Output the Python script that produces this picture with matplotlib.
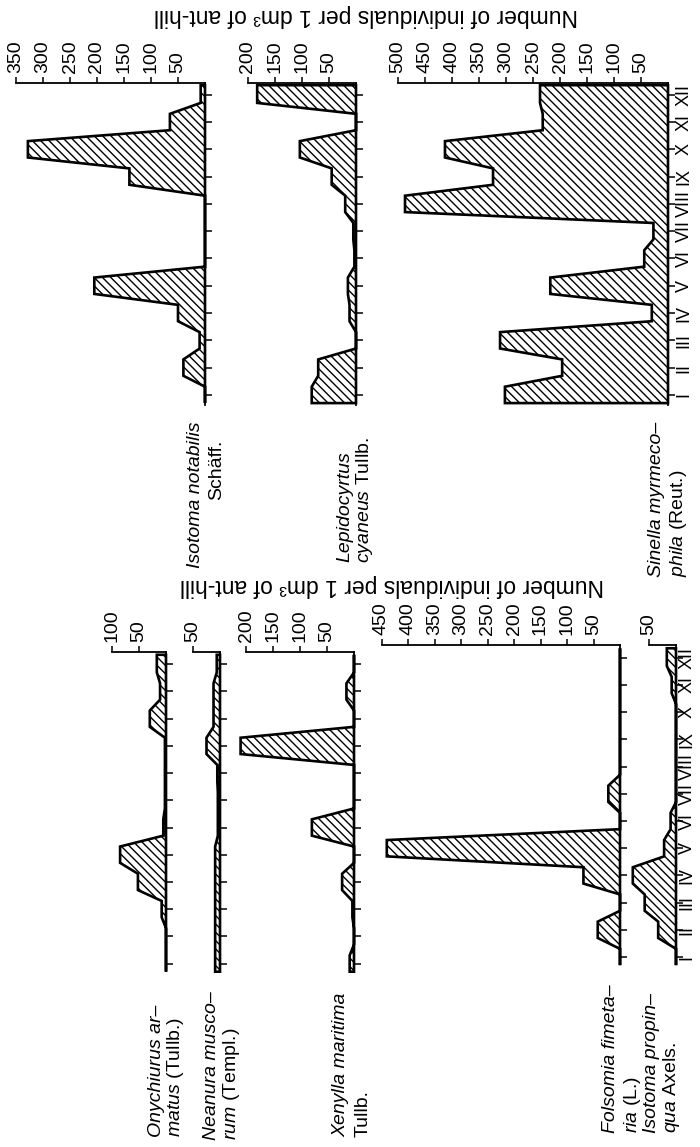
import matplotlib
matplotlib.use("Agg")
import matplotlib.pyplot as plt
import matplotlib.transforms as mtransforms
from matplotlib.patches import Polygon

plt.rcParams['font.family'] = ['Liberation Sans', 'DejaVu Sans']
plt.rcParams['mathtext.fontset'] = 'custom'
plt.rcParams['mathtext.rm'] = 'Liberation Sans'
plt.rcParams['mathtext.it'] = 'Liberation Sans:italic'
plt.rcParams['hatch.linewidth'] = 1.0

W, H = 700, 1147

months = ['I', 'II', 'III', 'IV', 'V', 'VI', 'VII', 'VIII', 'IX', 'X', 'XI', 'XII']

# individuals per 1 dm3 of ant-hill, months I..XII
isotoma_notabilis = [0, 40, 10, 50, 205, 0, 0, 0, 140, 328, 65, 8]
lepidocyrtus_cyaneus = [82, 70, 0, 12, 15, 3, 5, 20, 45, 104, 0, 183]
sinella_myrmecophila = [302, 196, 311, 30, 218, 44, 27, 487, 324, 413, 232, 237]
onychiurus_armatus = [0, 0, 8, 52, 85, 5, 2, 2, 2, 30, 11, 17]
neanura_muscorum = [9, 9, 9, 9, 9, 4, 4, 5, 25, 12, 12, 6]
xenylla_maritima = [8, 0, 3, 22, 0, 78, 0, 0, 210, 0, 14, 0]
folsomia_fimetaria = [0, 42, 0, 69, 440, 0, 22, 0, 0, 0, 0, 0]
isotoma_propinqua = [0, 33, 58, 80, 22, 10, 0, 0, 0, 0, 8, 17]

ylabel = 'Number of individuals per 1 dm³ of ant-hill'

FS = 14
fig = plt.figure(figsize=(W / 100, H / 100), dpi=100)


def profile(values, half=0.3, start=0.3, end=0.35):
    pts = [(0, 1 - start)]
    n = len(values)
    for i, v in enumerate(values):
        m = i + 1
        lo = m - (start if i == 0 else half)
        hi = m + (end if i == n - 1 else half)
        pts.append((v, lo))
        pts.append((v, hi))
    pts.append((0, n + end))
    return pts


def panel(values, left, base, top, bottom, mlo, mhi, vmax, step=50):
    ax = fig.add_axes([left / W, 1 - bottom / H, (base - left) / W, (bottom - top) / H])
    ax.set_xlim(vmax, 0)
    ax.set_ylim(mlo, mhi)
    poly = Polygon(profile(values), closed=True, facecolor='white',
                   edgecolor='black', hatch='\\\\\\\\', linewidth=1.9,
                   joinstyle='miter', clip_on=False, zorder=3)
    ax.add_patch(poly)
    for s in ('left', 'bottom'):
        ax.spines[s].set_visible(False)
    for s in ('top', 'right'):
        ax.spines[s].set_linewidth(1.3)
    ax.patch.set_visible(False)
    ax.xaxis.tick_top()
    ticks = list(range(step, vmax + 1, step))
    ax.set_xticks(ticks)
    ax.set_xticklabels([str(t) for t in ticks])
    ax.tick_params(axis='x', direction='out', length=4, width=1.1,
                   labelsize=FS, labelrotation=90, pad=3)
    ax.yaxis.tick_right()
    ax.set_yticks(range(1, 13))
    ax.set_yticklabels([])
    ax.tick_params(axis='y', direction='out', length=5, width=1.1)
    return ax


def month_labels(ax, xpx):
    tr = mtransforms.blended_transform_factory(fig.transFigure, ax.transData)
    for i, m in enumerate(months):
        ax.text(xpx / W, i + 1, m, transform=tr, rotation=90,
                ha='center', va='center', fontsize=13)


def label(xpx, ypx, text, italic=False):
    fig.text(xpx / W, 1 - ypx / H, text, rotation=90, rotation_mode='anchor',
             ha='left', va='baseline', fontsize=FS,
             fontstyle='italic' if italic else 'normal')


# right-hand group (upper part of the page)
TOP_U, BOT_U = 83, 405
MLO_U, MHI_U = 0.63, 12.43
panel(isotoma_notabilis, 16, 205, TOP_U, BOT_U, MLO_U, MHI_U, 350)
panel(lepidocyrtus_cyaneus, 248, 356, TOP_U, BOT_U, MLO_U, MHI_U, 200)
ax_s = panel(sinella_myrmecophila, 398, 668, TOP_U, BOT_U, MLO_U, MHI_U, 500)
month_labels(ax_s, 684)

# left-hand group (lower part of the page)
MLO_L, MHI_L = 0.78, 12.47
sh = 6.5
panel(onychiurus_armatus, 112, 166, 645 + sh, 963 + sh, MLO_L, MHI_L, 100)
panel(neanura_muscorum, 193, 220, 645 + sh, 963 + sh, MLO_L, MHI_L, 50)
panel(xenylla_maritima, 246, 354, 645 + sh, 963 + sh, MLO_L, MHI_L, 200)
panel(folsomia_fimetaria, 381.5, 620, 645, 963, MLO_L, MHI_L, 450)
ax_p = panel(isotoma_propinqua, 649, 676, 645, 963, MLO_L, MHI_L, 50)
month_labels(ax_p, 687)

# axis titles
fig.text(366 / W, 1 - 16 / H, ylabel, rotation=180, ha='center', va='center', fontsize=16.5)
fig.text(392 / W, 1 - 586 / H, ylabel, rotation=180, ha='center', va='center', fontsize=16.5)

# species names
label(200, 568, 'Isotoma notabilis', italic=True)
label(221, 500, 'Schäff.')
label(349, 562, 'Lepidocyrtus', italic=True)
label(369, 563, r'$\mathit{cyaneus}$ Tullb.')
label(661, 577, 'Sinella myrmeco–', italic=True)
label(683, 577, r'$\mathit{phila}$ (Reut.)')

label(161, 1137, 'Onychiurus ar–', italic=True)
label(180, 1137, r'$\mathit{matus}$ (Tullb.)')
label(216, 1140, 'Neanura musco–', italic=True)
label(236, 1140, r'$\mathit{rum}$ (Templ.)')
label(345, 1137, 'Xenylla maritima', italic=True)
label(368, 1137, 'Tullb.')
label(615, 1133, 'Folsomia fimeta–', italic=True)
label(637, 1133, r'$\mathit{ria}$ (L.)')
label(656, 1133, 'Isotoma propin–', italic=True)
label(676, 1133, r'$\mathit{qua}$ Axels.')

fig.savefig('out.png', dpi=100)
